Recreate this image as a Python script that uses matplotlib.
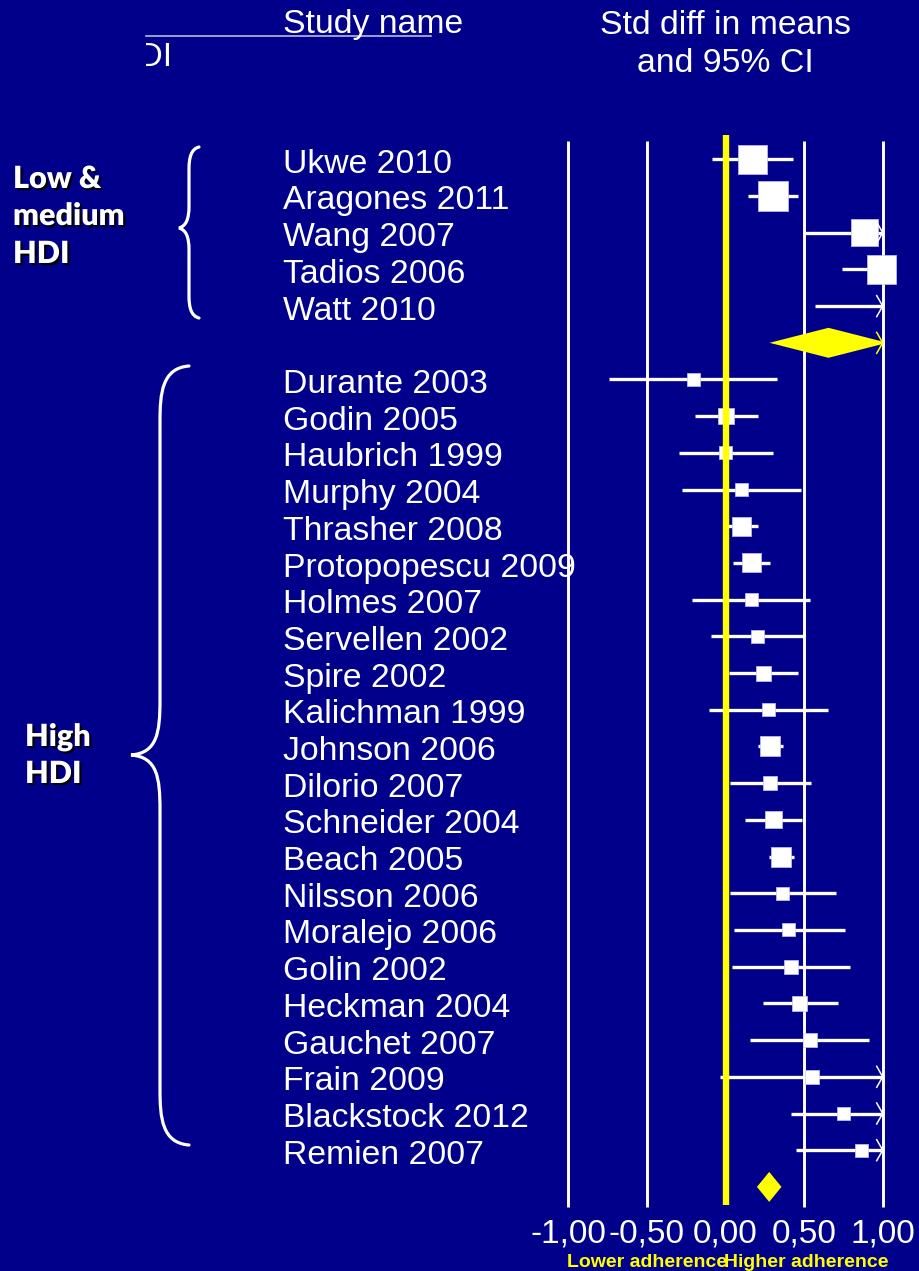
import numpy as np
import matplotlib
matplotlib.use('Agg')
import matplotlib.pyplot as plt
import matplotlib.patheffects as pe
from matplotlib.path import Path
from matplotlib.patches import PathPatch, Rectangle

plt.rcParams['font.family'] = ['Liberation Sans', 'DejaVu Sans']

# --- data (std diff in means, 95% CI) ---
low_names = ['Ukwe 2010', 'Aragones 2011', 'Wang 2007', 'Tadios 2006', 'Watt 2010']
low_est = [0.17, 0.30, 0.885, 0.995, 1.12]
low_lo = [-0.085, 0.145, 0.49, 0.74, 0.57]
low_hi = [0.43, 0.46, 1.28, 1.25, 1.67]
low_weight = [29, 30, 27, 29, 20]
low_summary = (0.655, 0.28, 1.03)

high_names = ['Durante 2003', 'Godin 2005', 'Haubrich 1999', 'Murphy 2004',
              'Thrasher 2008', 'Protopopescu 2009', 'Holmes 2007', 'Servellen 2002',
              'Spire 2002', 'Kalichman 1999', 'Johnson 2006', 'Dilorio 2007',
              'Schneider 2004', 'Beach 2005', 'Nilsson 2006', 'Moralejo 2006',
              'Golin 2002', 'Heckman 2004', 'Gauchet 2007', 'Frain 2009',
              'Blackstock 2012', 'Remien 2007']
high_est = [-0.205, 0.002, 0.003, 0.104, 0.104, 0.164, 0.164, 0.204, 0.244, 0.274,
            0.283, 0.285, 0.304, 0.354, 0.363, 0.403, 0.415, 0.473, 0.535, 0.551,
            0.753, 0.864]
high_lo = [-0.74, -0.195, -0.293, -0.274, 0.004, 0.047, -0.21, -0.094, 0.025, -0.102,
           0.204, 0.027, 0.125, 0.274, 0.026, 0.051, 0.04, 0.236, 0.159, -0.038,
           0.418, 0.45]
high_hi = [0.327, 0.204, 0.30, 0.48, 0.204, 0.285, 0.54, 0.499, 0.463, 0.65,
           0.367, 0.543, 0.484, 0.437, 0.70, 0.76, 0.79, 0.713, 0.911, 1.14,
           1.09, 1.28]
high_weight = [13, 16, 13, 13, 19, 19, 13, 13, 15, 13, 20, 14, 17, 20, 13, 13,
               14, 15, 14, 14, 13, 13]
high_summary = (0.278, 0.20, 0.356)

ticks = [-1.0, -0.5, 0.0, 0.5, 1.0]
tick_labels = ['-1,00', '-0,50', '0,00', '0,50', '1,00']

BG = '#00008B'
YEL = '#FFFF00'
W, H = 920, 1271
ROW0, ROWH = 159.3, 36.7          # pixel y of first row, row height
X0, XS = 725.5, 157.2             # pixel x of zero, px per unit
FS = 24.3                         # main text size


def row(px):
    return (px - ROW0) / ROWH


def add_px_axes(x0, y0, x1, y1):
    a = fig.add_axes([x0 / W, 1 - y1 / H, (x1 - x0) / W, (y1 - y0) / H])
    a.set_facecolor('none')
    a.axis('off')
    return a


# row layout: low group, summary, high group, summary
n_low = len(low_names)
low_rows = np.arange(n_low)
low_sum_row = n_low
high_rows = np.arange(len(high_names)) + n_low + 1
high_sum_row = high_rows[-1] + 1

fig = plt.figure(figsize=(W / 100, H / 100), dpi=100, facecolor=BG)

# left part: names, braces, group labels (x in pixels, y in rows)
axl = add_px_axes(0, 100, 540, 1220)
axl.set_xlim(0, 540)
axl.set_ylim(row(1220), row(100))

# forest part
ax = fig.add_axes([540 / W, 1 - 1220 / H, 380 / W, 1120 / H])
ax.set_facecolor('none')
ax.set_xlim((540 - X0) / XS, (920 - X0) / XS)
ax.set_ylim(row(1220), row(100))
for s in ax.spines.values():
    s.set_visible(False)
ax.set_yticks([])
ax.set_xticks(ticks)
ax.set_xticklabels(tick_labels)
ax.tick_params(axis='x', length=0, pad=-1, labelsize=24, labelcolor='white')

# reference lines
ax.vlines([t for t in ticks if t != 0], row(141), row(1207), color='white', lw=2.1, zorder=1)
ax.vlines(0, row(135), row(1205), color=YEL, lw=4.6, zorder=6)


def arrowhead(r, color):
    ax.plot([1 - 6 / XS, 1.0, 1 - 6 / XS], [r - 10.5 / ROWH, r, r + 10.5 / ROWH],
            color=color, lw=1.1, zorder=4, solid_joinstyle='miter')


def study_rows(rows, est, lo, hi, weight):
    est, lo, hi, weight = map(np.asarray, (est, lo, hi, weight))
    ax.hlines(rows, lo, np.minimum(hi, 1.0), color='white', lw=2.4, zorder=2)
    for r, h in zip(rows, hi):
        if h > 1.0:
            arrowhead(r, 'white')
    shown = est <= 1.0
    ax.scatter(est[shown], rows[shown], marker='s', s=(weight[shown] * 0.72) ** 2,
               color='white', edgecolors='#C8C8E8', linewidths=0.5, zorder=3)


def diamond(r, summ):
    e, l, h = summ
    half = 15 / ROWH
    poly = ax.fill([l, e, h, e], [r, r - half, r, r + half], color=YEL, lw=0, zorder=5)[0]
    poly.set_clip_path(Rectangle((-2, -5), 3.0, 60, transform=ax.transData))
    if h > 1.0:
        arrowhead(r, YEL)


study_rows(low_rows, low_est, low_lo, low_hi, low_weight)
study_rows(high_rows, high_est, high_lo, high_hi, high_weight)
diamond(low_sum_row, low_summary)
diamond(high_sum_row, high_summary)

ax.text(-1.01, row(1267), 'Lower adherence', color=YEL, fontsize=14, fontweight='bold',
        ha='left', va='baseline', clip_on=False)
ax.text(-0.01, row(1267), 'Higher adherence', color=YEL, fontsize=14, fontweight='bold',
        ha='left', va='baseline', clip_on=False)

# study names
for r, name in zip(np.concatenate([low_rows, high_rows]), low_names + high_names):
    axl.text(283, r + 13.5 / ROWH, name, color='white', fontsize=FS,
             ha='left', va='baseline')


def brace(x_arm, x_tip, top, bot, mid, curl):
    xm = (x_arm + x_tip) / 2
    verts = [(x_arm, top), (xm + 2, top + 2), (xm, top + curl * 0.5), (xm, top + curl),
             (xm, mid - curl),
             (xm, mid - curl * 0.4), (xm - 3, mid - 2), (x_tip, mid),
             (xm - 3, mid + 2), (xm, mid + curl * 0.4), (xm, mid + curl),
             (xm, bot - curl),
             (xm, bot - curl * 0.5), (xm + 2, bot - 2), (x_arm, bot)]
    codes = [Path.MOVETO, Path.CURVE4, Path.CURVE4, Path.CURVE4, Path.LINETO,
             Path.CURVE4, Path.CURVE4, Path.CURVE4, Path.CURVE4, Path.CURVE4, Path.CURVE4,
             Path.LINETO, Path.CURVE4, Path.CURVE4, Path.CURVE4]
    verts = [(x, row(y)) for x, y in verts]
    axl.add_patch(PathPatch(Path(verts, codes), fill=False, edgecolor='white',
                            lw=2.3, capstyle='round', clip_on=False))


brace(199, 179, 147, 318, 228, 22)
brace(189, 131, 366, 1145, 755, 55)

# group labels with drop shadow
shadow = [pe.withSimplePatchShadow(offset=(1.6, -1.6), shadow_rgbFace='black', alpha=0.9)]
for x, y, t in [(13, 188, 'Low &'), (13, 225, 'medium'), (13, 263, 'HDI'),
                (25, 746, 'High'), (25, 783, 'HDI')]:
    axl.text(x, row(y), t, color='white', fontsize=22, fontweight='heavy', family='Lato',
             ha='left', va='baseline', path_effects=shadow)

# header
axh = add_px_axes(146, 0, 920, 100)
axh.set_xlim(146, 920)
axh.set_ylim(100, 0)
axh.plot([146, 431], [36, 36], color='#B8B8D8', lw=1.2, clip_on=False)
axh.text(114, 65.5, 'HDI', color='white', fontsize=FS, ha='left', va='baseline', clip_on=True)
axh.text(283, 33.5, 'Study name', color='white', fontsize=FS, ha='left', va='baseline')
axh.text(X0, 33.5, 'Std diff in means', color='white', fontsize=FS, ha='center', va='baseline')
axh.text(X0, 72.5, 'and 95% CI', color='white', fontsize=FS, ha='center', va='baseline')

fig.savefig('out.png', dpi=100, facecolor=BG)
